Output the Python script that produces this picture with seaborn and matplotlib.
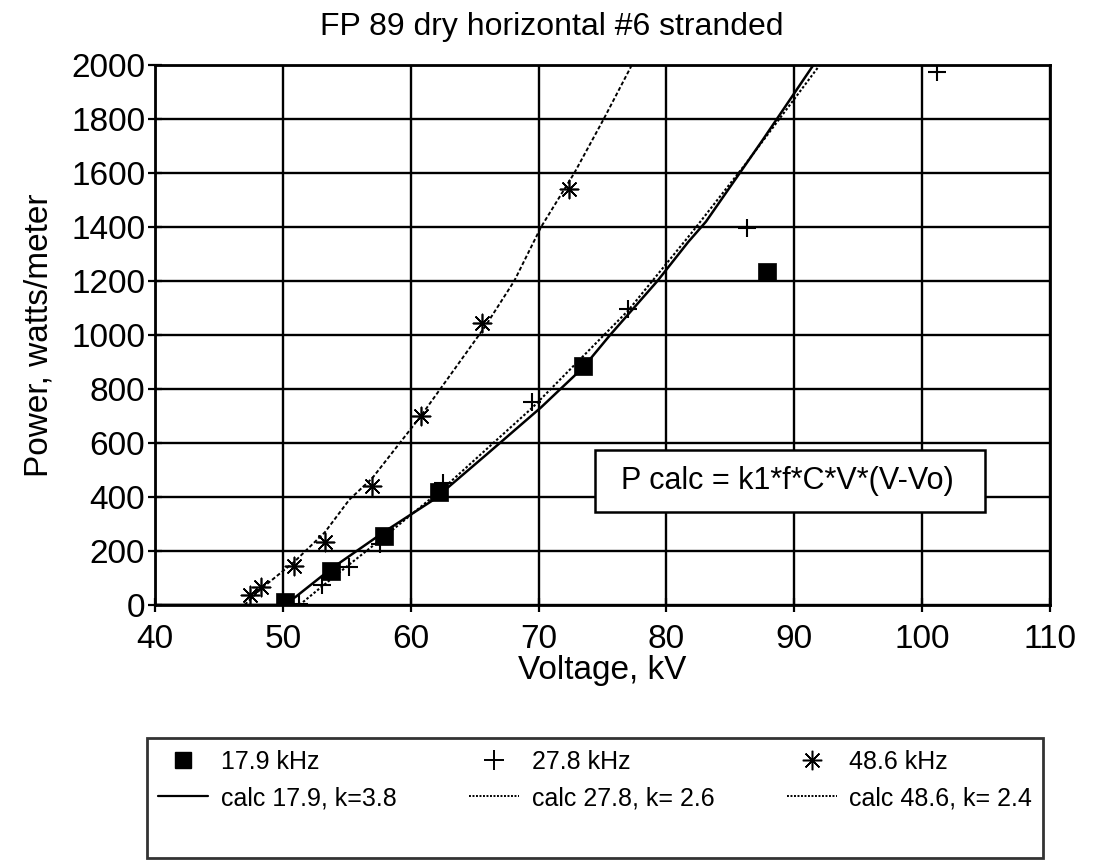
import matplotlib
matplotlib.use("Agg")
import matplotlib.pyplot as plt
import seaborn as sns
from matplotlib.lines import Line2D
from matplotlib.patches import Rectangle

# ---- data ----
v_179 = [50.2, 53.8, 57.9, 62.2, 73.5, 87.9]
p_179 = [12, 126, 255, 420, 885, 1235]

v_278 = [51.3, 53.1, 55.2, 57.6, 62.5, 69.5, 77.0, 86.3, 101.2]
p_278 = [5, 75, 140, 225, 450, 750, 1095, 1395, 1975]

v_486 = [47.4, 48.3, 50.9, 53.3, 57.0, 60.8, 65.6, 72.4]
p_486 = [36, 66, 144, 234, 440, 700, 1045, 1540]

calc_v_179 = [40.0, 50.0, 51.0, 53.8, 57.9, 61.8, 66.0, 70.2, 73.5, 75.6, 79.3, 81.7, 83.1, 87.5, 91.5]
calc_p_179 = [0, 0, 30, 135, 270, 390, 560, 732, 880, 1000, 1200, 1344, 1420, 1720, 2000]

calc_v_278 = [51.3, 53.1, 55.2, 57.6, 62.5, 69.5, 77.0, 82.0, 86.3, 92.0]
calc_p_278 = [0, 70, 150, 240, 430, 730, 1090, 1380, 1640, 2000]

calc_v_486 = [47.0, 48.3, 50.9, 53.3, 55.2, 57.0, 60.8, 65.8, 68.1, 70.2, 72.8, 75.1, 77.3]
calc_p_486 = [0, 60, 160, 270, 390, 470, 700, 1030, 1200, 1400, 1600, 1800, 2000]

x_ticks = [40, 50, 60, 70, 80, 90, 100, 110]
y_ticks = [0, 200, 400, 600, 800, 1000, 1200, 1400, 1600, 1800, 2000]

title = "FP 89 dry horizontal #6 stranded"
xlabel = "Voltage, kV"
ylabel = "Power, watts/meter"
formula = "P calc = k1*f*C*V*(V-Vo)"
labels_meas = ["17.9 kHz", "27.8 kHz", "48.6 kHz"]
labels_calc = ["calc 17.9, k=3.8", "calc 27.8, k= 2.6", "calc 48.6, k= 2.4"]

# ---- styling ----
sns.set_theme(style="whitegrid")
plt.rcParams["font.family"] = ["Liberation Sans", "DejaVu Sans"]

fig = plt.figure(figsize=(10.93, 8.64), dpi=100)
ax = fig.add_axes([0.1418, 0.2998, 0.8188, 0.625])

asterisk = (8, 2, 0)

# calc curves
sns.lineplot(x=calc_v_179, y=calc_p_179, ax=ax, color="black", linewidth=1.8,
             linestyle="-", sort=False, estimator=None)
sns.lineplot(x=calc_v_278, y=calc_p_278, ax=ax, color="black", linewidth=1.5,
             linestyle=(0, (1.2, 1.0)), sort=False, estimator=None)
sns.lineplot(x=calc_v_486, y=calc_p_486, ax=ax, color="black", linewidth=1.4,
             linestyle=(0, (2.0, 1.2)), sort=False, estimator=None)

# measured points
sns.scatterplot(x=v_179, y=p_179, ax=ax, marker="s", s=175, color="black",
                edgecolor="black", linewidth=0.5, zorder=5)
sns.scatterplot(x=v_278, y=p_278, ax=ax, marker="+", s=170, color="black",
                linewidth=1.5, zorder=5)
sns.scatterplot(x=v_486, y=p_486, ax=ax, marker=asterisk, s=170, color="black",
                linewidth=1.2, zorder=5)

ax.set_xlim(40, 110)
ax.set_ylim(0, 2000)
ax.set_xticks(x_ticks)
ax.set_yticks(y_ticks)
ax.set_xticklabels([str(t) for t in x_ticks], fontsize=24)
ax.set_yticklabels([str(t) for t in y_ticks], fontsize=24)
ax.grid(True, color="black", linewidth=1.7)
ax.set_axisbelow(True)
for s in ax.spines.values():
    s.set_color("black")
    s.set_linewidth(2.0)
ax.tick_params(axis="both", which="both", direction="inout", length=10,
               width=1.6, color="black", colors="black")
ax.tick_params(axis="x", bottom=True, pad=9)
ax.tick_params(axis="y", left=True, pad=2)
ax.set_facecolor("white")

ax.set_xlabel(xlabel, fontsize=24, color="black", labelpad=0)
ax.set_ylabel(ylabel, fontsize=24, color="black", labelpad=12)
fig.text(0.505, 1 - 35 / 864, title, fontsize=23, color="black",
         ha="center", va="baseline")

# formula box
ax.add_patch(Rectangle((0.4916, 0.172), 0.4354, 0.115, transform=ax.transAxes,
                       facecolor="white", edgecolor="black", linewidth=1.8,
                       zorder=6))
ax.text(0.707, 0.2296, formula, transform=ax.transAxes, fontsize=22,
        ha="center", va="center", color="black", zorder=7)

# legend: row 1 measured, row 2 calc, row 3 empty
h_sq = Line2D([], [], marker="s", color="black", linestyle="none", markersize=11)
h_pl = Line2D([], [], marker="+", color="black", linestyle="none", markersize=14, markeredgewidth=1.4)
h_st = Line2D([], [], marker=asterisk, color="black", linestyle="none", markersize=14, markeredgewidth=1.1)
h_c1 = Line2D([], [], color="black", linewidth=1.6, linestyle="-")
h_c2 = Line2D([], [], color="black", linewidth=1.4, linestyle=(0, (1.0, 0.8)))
h_c3 = Line2D([], [], color="black", linewidth=1.4, linestyle=(0, (1.0, 0.8)))
h_blank = Line2D([], [], color="none", linestyle="none")

handles = [h_sq, h_c1, h_blank, h_pl, h_c2, h_blank, h_st, h_c3, h_blank]
labels = [labels_meas[0], labels_calc[0], " ", labels_meas[1], labels_calc[1], " ",
          labels_meas[2], labels_calc[2], " "]
leg = fig.legend(handles, labels, ncol=3, loc="lower left",
                 bbox_to_anchor=(0.1345, 0.007, 0.82, 0.14), mode="expand",
                 borderaxespad=0.0,
                 fontsize=18, frameon=True, fancybox=False, edgecolor="black",
                 handlelength=2.0, handletextpad=0.5, columnspacing=0.8,
                 labelspacing=0.5, borderpad=0.45)
leg.get_frame().set_linewidth(2.0)
for t in leg.get_texts():
    t.set_color("black")

fig.savefig("out.png", dpi=100, facecolor="white")
